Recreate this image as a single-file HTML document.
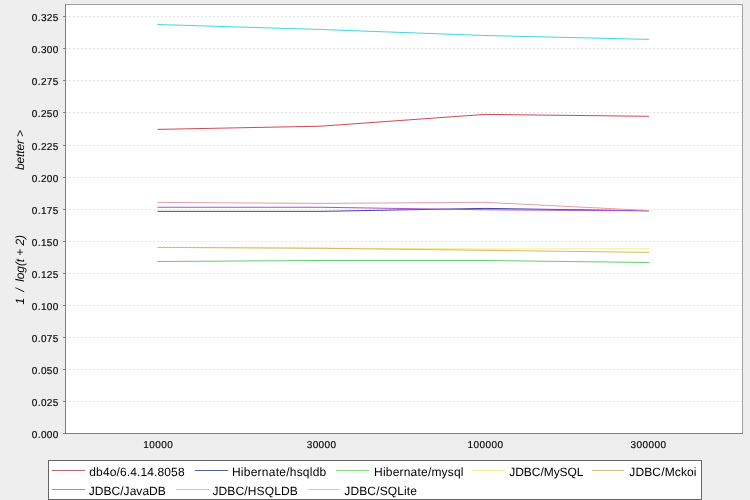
<!DOCTYPE html>
<html><head><meta charset="utf-8"><title>chart</title>
<style>html,body{margin:0;padding:0;background:#eeeeee;}svg{display:block;}</style>
</head><body>
<svg width="750" height="500" viewBox="0 0 750 500">
<rect x="0" y="0" width="750" height="500" fill="#eeeeee"/>
<rect x="65" y="4" width="678" height="430" fill="#ffffff"/>
<line x1="65" y1="401.5" x2="742" y2="401.5" stroke="#e4e4e4" stroke-width="1" stroke-dasharray="2 2" shape-rendering="crispEdges"/>
<line x1="65" y1="369.5" x2="742" y2="369.5" stroke="#e4e4e4" stroke-width="1" stroke-dasharray="2 2" shape-rendering="crispEdges"/>
<line x1="65" y1="337.5" x2="742" y2="337.5" stroke="#e4e4e4" stroke-width="1" stroke-dasharray="2 2" shape-rendering="crispEdges"/>
<line x1="65" y1="305.5" x2="742" y2="305.5" stroke="#e4e4e4" stroke-width="1" stroke-dasharray="2 2" shape-rendering="crispEdges"/>
<line x1="65" y1="273.5" x2="742" y2="273.5" stroke="#e4e4e4" stroke-width="1" stroke-dasharray="2 2" shape-rendering="crispEdges"/>
<line x1="65" y1="241.5" x2="742" y2="241.5" stroke="#e4e4e4" stroke-width="1" stroke-dasharray="2 2" shape-rendering="crispEdges"/>
<line x1="65" y1="209.5" x2="742" y2="209.5" stroke="#e4e4e4" stroke-width="1" stroke-dasharray="2 2" shape-rendering="crispEdges"/>
<line x1="65" y1="177.5" x2="742" y2="177.5" stroke="#e4e4e4" stroke-width="1" stroke-dasharray="2 2" shape-rendering="crispEdges"/>
<line x1="65" y1="145.5" x2="742" y2="145.5" stroke="#e4e4e4" stroke-width="1" stroke-dasharray="2 2" shape-rendering="crispEdges"/>
<line x1="65" y1="112.5" x2="742" y2="112.5" stroke="#e4e4e4" stroke-width="1" stroke-dasharray="2 2" shape-rendering="crispEdges"/>
<line x1="65" y1="80.5" x2="742" y2="80.5" stroke="#e4e4e4" stroke-width="1" stroke-dasharray="2 2" shape-rendering="crispEdges"/>
<line x1="65" y1="48.5" x2="742" y2="48.5" stroke="#e4e4e4" stroke-width="1" stroke-dasharray="2 2" shape-rendering="crispEdges"/>
<line x1="65" y1="16.5" x2="742" y2="16.5" stroke="#e4e4e4" stroke-width="1" stroke-dasharray="2 2" shape-rendering="crispEdges"/>
<rect x="65.5" y="4.5" width="677" height="429" fill="none" stroke="#a2a2a2" stroke-width="1" shape-rendering="crispEdges"/>
<line x1="65.5" y1="4" x2="65.5" y2="434" stroke="#808080" shape-rendering="crispEdges"/>
<line x1="65" y1="433.5" x2="743" y2="433.5" stroke="#808080" shape-rendering="crispEdges"/>
<line x1="63" y1="433.5" x2="65" y2="433.5" stroke="#808080" shape-rendering="crispEdges"/>
<text x="58.3" y="438" font-family="Liberation Sans, Arial, sans-serif" text-rendering="geometricPrecision" font-size="10" text-anchor="end" textLength="26.5" lengthAdjust="spacing" fill="#000" stroke="#000" stroke-width="0.15">0.000</text>
<line x1="63" y1="401.5" x2="65" y2="401.5" stroke="#808080" shape-rendering="crispEdges"/>
<text x="58.3" y="406" font-family="Liberation Sans, Arial, sans-serif" text-rendering="geometricPrecision" font-size="10" text-anchor="end" textLength="26.5" lengthAdjust="spacing" fill="#000" stroke="#000" stroke-width="0.15">0.025</text>
<line x1="63" y1="369.5" x2="65" y2="369.5" stroke="#808080" shape-rendering="crispEdges"/>
<text x="58.3" y="374" font-family="Liberation Sans, Arial, sans-serif" text-rendering="geometricPrecision" font-size="10" text-anchor="end" textLength="26.5" lengthAdjust="spacing" fill="#000" stroke="#000" stroke-width="0.15">0.050</text>
<line x1="63" y1="337.5" x2="65" y2="337.5" stroke="#808080" shape-rendering="crispEdges"/>
<text x="58.3" y="342" font-family="Liberation Sans, Arial, sans-serif" text-rendering="geometricPrecision" font-size="10" text-anchor="end" textLength="26.5" lengthAdjust="spacing" fill="#000" stroke="#000" stroke-width="0.15">0.075</text>
<line x1="63" y1="305.5" x2="65" y2="305.5" stroke="#808080" shape-rendering="crispEdges"/>
<text x="58.3" y="310" font-family="Liberation Sans, Arial, sans-serif" text-rendering="geometricPrecision" font-size="10" text-anchor="end" textLength="26.5" lengthAdjust="spacing" fill="#000" stroke="#000" stroke-width="0.15">0.100</text>
<line x1="63" y1="273.5" x2="65" y2="273.5" stroke="#808080" shape-rendering="crispEdges"/>
<text x="58.3" y="278" font-family="Liberation Sans, Arial, sans-serif" text-rendering="geometricPrecision" font-size="10" text-anchor="end" textLength="26.5" lengthAdjust="spacing" fill="#000" stroke="#000" stroke-width="0.15">0.125</text>
<line x1="63" y1="241.5" x2="65" y2="241.5" stroke="#808080" shape-rendering="crispEdges"/>
<text x="58.3" y="246" font-family="Liberation Sans, Arial, sans-serif" text-rendering="geometricPrecision" font-size="10" text-anchor="end" textLength="26.5" lengthAdjust="spacing" fill="#000" stroke="#000" stroke-width="0.15">0.150</text>
<line x1="63" y1="209.5" x2="65" y2="209.5" stroke="#808080" shape-rendering="crispEdges"/>
<text x="58.3" y="214" font-family="Liberation Sans, Arial, sans-serif" text-rendering="geometricPrecision" font-size="10" text-anchor="end" textLength="26.5" lengthAdjust="spacing" fill="#000" stroke="#000" stroke-width="0.15">0.175</text>
<line x1="63" y1="177.5" x2="65" y2="177.5" stroke="#808080" shape-rendering="crispEdges"/>
<text x="58.3" y="182" font-family="Liberation Sans, Arial, sans-serif" text-rendering="geometricPrecision" font-size="10" text-anchor="end" textLength="26.5" lengthAdjust="spacing" fill="#000" stroke="#000" stroke-width="0.15">0.200</text>
<line x1="63" y1="145.5" x2="65" y2="145.5" stroke="#808080" shape-rendering="crispEdges"/>
<text x="58.3" y="150" font-family="Liberation Sans, Arial, sans-serif" text-rendering="geometricPrecision" font-size="10" text-anchor="end" textLength="26.5" lengthAdjust="spacing" fill="#000" stroke="#000" stroke-width="0.15">0.225</text>
<line x1="63" y1="112.5" x2="65" y2="112.5" stroke="#808080" shape-rendering="crispEdges"/>
<text x="58.3" y="117" font-family="Liberation Sans, Arial, sans-serif" text-rendering="geometricPrecision" font-size="10" text-anchor="end" textLength="26.5" lengthAdjust="spacing" fill="#000" stroke="#000" stroke-width="0.15">0.250</text>
<line x1="63" y1="80.5" x2="65" y2="80.5" stroke="#808080" shape-rendering="crispEdges"/>
<text x="58.3" y="85" font-family="Liberation Sans, Arial, sans-serif" text-rendering="geometricPrecision" font-size="10" text-anchor="end" textLength="26.5" lengthAdjust="spacing" fill="#000" stroke="#000" stroke-width="0.15">0.275</text>
<line x1="63" y1="48.5" x2="65" y2="48.5" stroke="#808080" shape-rendering="crispEdges"/>
<text x="58.3" y="53" font-family="Liberation Sans, Arial, sans-serif" text-rendering="geometricPrecision" font-size="10" text-anchor="end" textLength="26.5" lengthAdjust="spacing" fill="#000" stroke="#000" stroke-width="0.15">0.300</text>
<line x1="63" y1="16.5" x2="65" y2="16.5" stroke="#808080" shape-rendering="crispEdges"/>
<text x="58.3" y="21" font-family="Liberation Sans, Arial, sans-serif" text-rendering="geometricPrecision" font-size="10" text-anchor="end" textLength="26.5" lengthAdjust="spacing" fill="#000" stroke="#000" stroke-width="0.15">0.325</text>
<text x="158" y="448" font-family="Liberation Sans, Arial, sans-serif" text-rendering="geometricPrecision" font-size="10" text-anchor="middle" textLength="29.5" lengthAdjust="spacing" fill="#000" stroke="#000" stroke-width="0.15">10000</text>
<text x="321.4" y="448" font-family="Liberation Sans, Arial, sans-serif" text-rendering="geometricPrecision" font-size="10" text-anchor="middle" textLength="29.5" lengthAdjust="spacing" fill="#000" stroke="#000" stroke-width="0.15">30000</text>
<text x="485.2" y="448" font-family="Liberation Sans, Arial, sans-serif" text-rendering="geometricPrecision" font-size="10" text-anchor="middle" textLength="35.5" lengthAdjust="spacing" fill="#000" stroke="#000" stroke-width="0.15">100000</text>
<text x="648.3" y="448" font-family="Liberation Sans, Arial, sans-serif" text-rendering="geometricPrecision" font-size="10" text-anchor="middle" textLength="35.5" lengthAdjust="spacing" fill="#000" stroke="#000" stroke-width="0.15">300000</text>
<polyline points="157.5,129.4 321,126.2 485,114.4 649,116.3" fill="none" stroke="#d04858" stroke-width="1" stroke-linejoin="round"/>
<polyline points="157.5,211.35 321,211.35 485,208.4 649,210.8" fill="none" stroke="#4242a0" stroke-width="1" stroke-linejoin="round"/>
<polyline points="157.5,261.5 321,260.5 485,260.5 649,262.5" fill="none" stroke="#60d070" stroke-width="1" stroke-linejoin="round"/>
<polyline points="157.5,247.4 321,248.0 485,249.0 649,248.8" fill="none" stroke="#f0f080" stroke-width="1" stroke-linejoin="round"/>
<polyline points="157.5,247.4 321,248.3 485,250.3 649,252.4" fill="none" stroke="#d8b860" stroke-width="1" stroke-linejoin="round"/>
<polyline points="157.5,207.25 321,207.25 485,209.8 649,210.8" fill="none" stroke="#b050d0" stroke-width="1" stroke-linejoin="round"/>
<polyline points="157.5,24.5 321,29.5 485,35.5 649,39.4" fill="none" stroke="#40d8e0" stroke-width="1" stroke-linejoin="round"/>
<polyline points="157.5,202.4 321,203.4 485,202.3 649,210.5" fill="none" stroke="#e0a0a8" stroke-width="1" stroke-linejoin="round"/>
<text transform="translate(24,170) rotate(-90)" font-family="Liberation Sans, Arial, sans-serif" font-style="italic" font-size="12" text-rendering="geometricPrecision" fill="#000" textLength="40" lengthAdjust="spacing">better &gt;</text>
<text transform="translate(24,304.5) rotate(-90)" font-family="Liberation Sans, Arial, sans-serif" font-style="italic" font-size="12" text-rendering="geometricPrecision" fill="#000" style="white-space:pre" textLength="69.5" lengthAdjust="spacing">1  /  log(t + 2)</text>
<rect x="48.5" y="460.5" width="653" height="39" fill="#ffffff" stroke="#666666" shape-rendering="crispEdges"/>
<line x1="52" y1="470.5" x2="85" y2="470.5" stroke="#b86870" stroke-width="1" shape-rendering="crispEdges"/>
<text x="89.3" y="476" font-family="Liberation Sans, Arial, sans-serif" text-rendering="geometricPrecision" font-size="12" textLength="95.3" lengthAdjust="spacing" fill="#000">db4o/6.4.14.8058</text>
<line x1="195" y1="470.5" x2="228" y2="470.5" stroke="#5c5ca4" stroke-width="1" shape-rendering="crispEdges"/>
<text x="231.9" y="476" font-family="Liberation Sans, Arial, sans-serif" text-rendering="geometricPrecision" font-size="12" textLength="94.4" lengthAdjust="spacing" fill="#000">Hibernate/hsqldb</text>
<line x1="336" y1="470.5" x2="369" y2="470.5" stroke="#80d880" stroke-width="1" shape-rendering="crispEdges"/>
<text x="374.1" y="476" font-family="Liberation Sans, Arial, sans-serif" text-rendering="geometricPrecision" font-size="12" textLength="89.4" lengthAdjust="spacing" fill="#000">Hibernate/mysql</text>
<line x1="472" y1="470.5" x2="505" y2="470.5" stroke="#eef09a" stroke-width="1" shape-rendering="crispEdges"/>
<text x="509.3" y="476" font-family="Liberation Sans, Arial, sans-serif" text-rendering="geometricPrecision" font-size="12" textLength="74.2" lengthAdjust="spacing" fill="#000">JDBC/MySQL</text>
<line x1="592" y1="470.5" x2="624" y2="470.5" stroke="#d4c484" stroke-width="1" shape-rendering="crispEdges"/>
<text x="629.3" y="476" font-family="Liberation Sans, Arial, sans-serif" text-rendering="geometricPrecision" font-size="12" textLength="67.2" lengthAdjust="spacing" fill="#000">JDBC/Mckoi</text>
<line x1="52" y1="489.5" x2="85" y2="489.5" stroke="#c078cc" stroke-width="1" shape-rendering="crispEdges"/>
<text x="88.8" y="495" font-family="Liberation Sans, Arial, sans-serif" text-rendering="geometricPrecision" font-size="12" textLength="77.0" lengthAdjust="spacing" fill="#000">JDBC/JavaDB</text>
<line x1="176" y1="489.5" x2="209" y2="489.5" stroke="#88e0dc" stroke-width="1" shape-rendering="crispEdges"/>
<text x="212.4" y="495" font-family="Liberation Sans, Arial, sans-serif" text-rendering="geometricPrecision" font-size="12" textLength="85.4" lengthAdjust="spacing" fill="#000">JDBC/HSQLDB</text>
<line x1="308" y1="489.5" x2="340" y2="489.5" stroke="#e2bcc4" stroke-width="1" shape-rendering="crispEdges"/>
<text x="344.3" y="495" font-family="Liberation Sans, Arial, sans-serif" text-rendering="geometricPrecision" font-size="12" textLength="72.7" lengthAdjust="spacing" fill="#000">JDBC/SQLite</text>
</svg>
</body></html>
